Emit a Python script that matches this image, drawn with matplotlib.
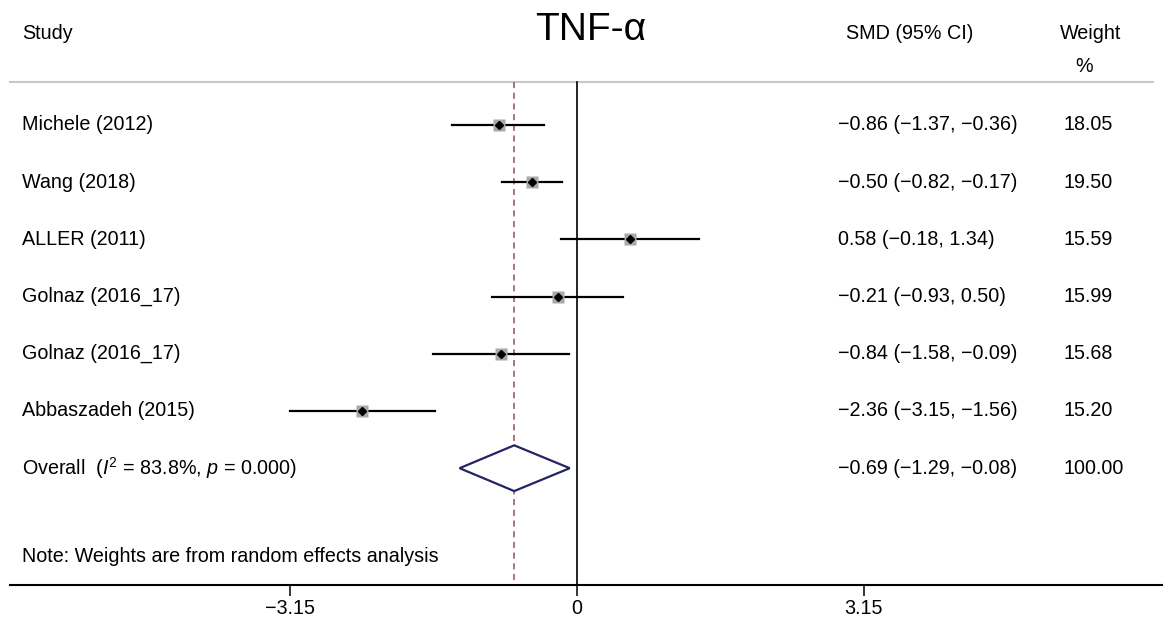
import numpy as np
import matplotlib.pyplot as plt

plt.rcParams['font.family'] = ['Liberation Sans', 'DejaVu Sans']
plt.rcParams['mathtext.fontset'] = 'custom'
plt.rcParams['mathtext.rm'] = 'Liberation Sans'
plt.rcParams['mathtext.it'] = 'Liberation Sans:italic'

# dados do forest plot
estudos = ['Michele (2012)', 'Wang (2018)', 'ALLER (2011)', 'Golnaz (2016_17)',
           'Golnaz (2016_17)', 'Abbaszadeh (2015)']
smd = [-0.86, -0.50, 0.58, -0.21, -0.84, -2.36]
ic_inf = [-1.37, -0.82, -0.18, -0.93, -1.58, -3.15]
ic_sup = [-0.36, -0.17, 1.34, 0.50, -0.09, -1.56]
pesos = [18.05, 19.50, 15.59, 15.99, 15.68, 15.20]

geral = -0.69
geral_inf = -1.29
geral_sup = -0.08
geral_label = r'Overall  ($I^2$ = 83.8%, $p$ = 0.000)'
ticks = [-3.15, 0, 3.15]


def fmt(v):
    return f'{v:.2f}'.replace('-', '\u2212')


fig = plt.figure(figsize=(11.64, 6.2), dpi=100)
ax = fig.add_axes([0, 0, 1, 1])
ax.set_xlim(-577 / 91, (1164 - 577) / 91)
ax.set_ylim((620 - 125) / 57.2, -125 / 57.2)

y_cab = -1.608
y_linha = -0.752
y_eixo = 8.04
fs = 14.2

# cabecalho
ax.text(-6.10, y_cab, 'Study', fontsize=fs, va='center')
ax.text(0.15, y_cab - 0.05, 'TNF-α', fontsize=28, va='center', ha='center')
ax.text(2.96, y_cab, 'SMD (95% CI)', fontsize=fs, va='center')
ax.text(5.31, y_cab, 'Weight', fontsize=fs, va='center')
ax.text(5.47, -1.03, '%', fontsize=fs, va='center')
ax.plot([-6.23, 6.33], [y_linha, y_linha], color='#c8c8c8', lw=1.5)

# linhas de referencia
ax.plot([0, 0], [y_linha, y_eixo], color='black', lw=1.2)
ax.plot([geral, geral], [y_linha, y_eixo], color='#9b4a5a', lw=1.1,
        ls=(0, (4, 3)))

# estudos
for i in range(len(estudos)):
    ax.plot([ic_inf[i], ic_sup[i]], [i, i], color='black', lw=1.6, zorder=2)
    ax.plot(smd[i], i, marker='s', ms=2.05 * np.sqrt(pesos[i]),
            color='#a8a8a8', mec='none', zorder=3)
    ax.plot(smd[i], i, marker='D', ms=4.3, color='black', zorder=4)
    ax.text(-6.10, i, estudos[i], fontsize=fs, va='center')
    ax.text(2.87, i, f'{fmt(smd[i])} ({fmt(ic_inf[i])}, {fmt(ic_sup[i])})',
            fontsize=fs, va='center')
    ax.text(5.35, i, f'{pesos[i]:.2f}', fontsize=fs, va='center')

# diamante do efeito combinado
yg = len(estudos)
ax.fill([geral_inf, geral, geral_sup, geral],
        [yg, yg - 0.4, yg, yg + 0.4], fc='white', ec='#232366', lw=1.6, zorder=3)
ax.text(-6.10, yg, geral_label, fontsize=fs, va='center')
ax.text(2.87, yg, f'{fmt(geral)} ({fmt(geral_inf)}, {fmt(geral_sup)})',
        fontsize=fs, va='center')
ax.text(5.35, yg, '100.00', fontsize=fs, va='center')

ax.text(-6.10, 7.535, 'Note: Weights are from random effects analysis',
        fontsize=fs, va='center')

# eixo x
for s in ['top', 'left', 'right']:
    ax.spines[s].set_visible(False)
ax.spines['bottom'].set_position(('data', y_eixo))
ax.spines['bottom'].set_bounds(-6.23, 6.43)
ax.spines['bottom'].set_linewidth(1.5)
ax.set_xticks(ticks)
ax.set_xticklabels(['\u22123.15', '0', '3.15'])
ax.tick_params(axis='x', direction='out', length=8, width=1.1,
               labelsize=fs, pad=2)
ax.set_yticks([])

fig.savefig('out.png', dpi=100)
